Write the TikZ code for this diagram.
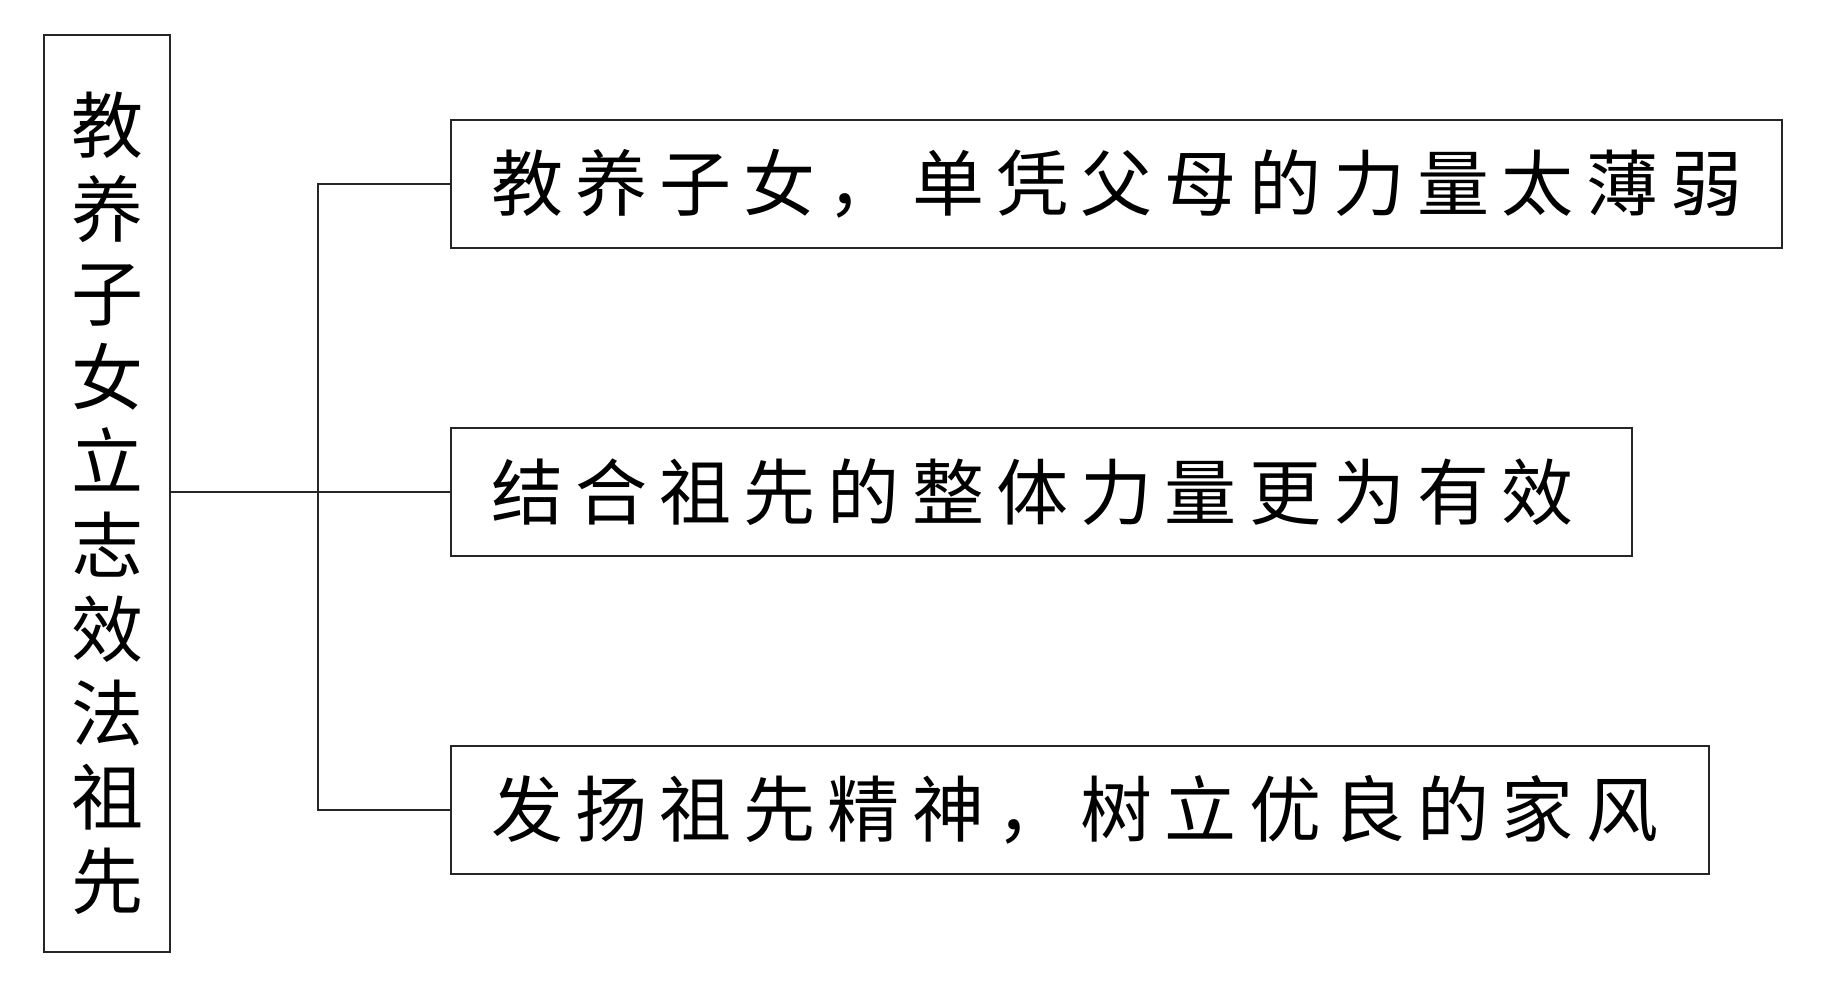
\documentclass[tikz,border=0pt]{standalone}
\usepackage{fontspec}
\newfontfamily\cjk[LetterSpace=17]{Noto Sans CJK SC}
\newfontfamily\cjkv{Noto Sans CJK SC}
\newcommand\lowered[1]{\raisebox{-6pt}{#1}}
\begin{document}
\begin{tikzpicture}[x=1pt,y=-1pt,
  frame/.style={draw=black!85, line width=2.8pt, inner sep=0pt},
  itembox/.style={frame, minimum height=128pt, inner xsep=40pt, align=left, font=\cjk\fontsize{72}{84}\selectfont},
  link/.style={draw=black!85, line width=2.6pt}]
\useasboundingbox (0,0) rectangle (1835,985);
\node[frame, minimum width=126pt, minimum height=917pt] (L) at (107,493.5) {};
\node[inner sep=0pt, align=center, font=\cjkv\fontsize{72}{84}\selectfont] (Lt) at ([yshift=-10pt]L.center)
  {教\\养\\子\\女\\立\\志\\效\\法\\祖\\先};
\node[itembox, minimum width=1331pt, text width=1251pt] (B1) at (1116.5,184) {\lowered{教养子女，单凭父母的力量太薄弱}};
\node[itembox, minimum width=1181pt, text width=1101pt] (B2) at (1041.5,492) {\lowered{结合祖先的整体力量更为有效}};
\node[itembox, minimum width=1258pt, text width=1178pt] (B3) at (1080,810) {\lowered{发扬祖先精神，树立优良的家风}};
\coordinate (J) at (318,0);
\draw[link] (B1.west) -- (B1.west -| J) -- (B3.west -| J) -- (B3.west);
\draw[link] (L.east |- B2.west) -- (B2.west);
\end{tikzpicture}
\end{document}
